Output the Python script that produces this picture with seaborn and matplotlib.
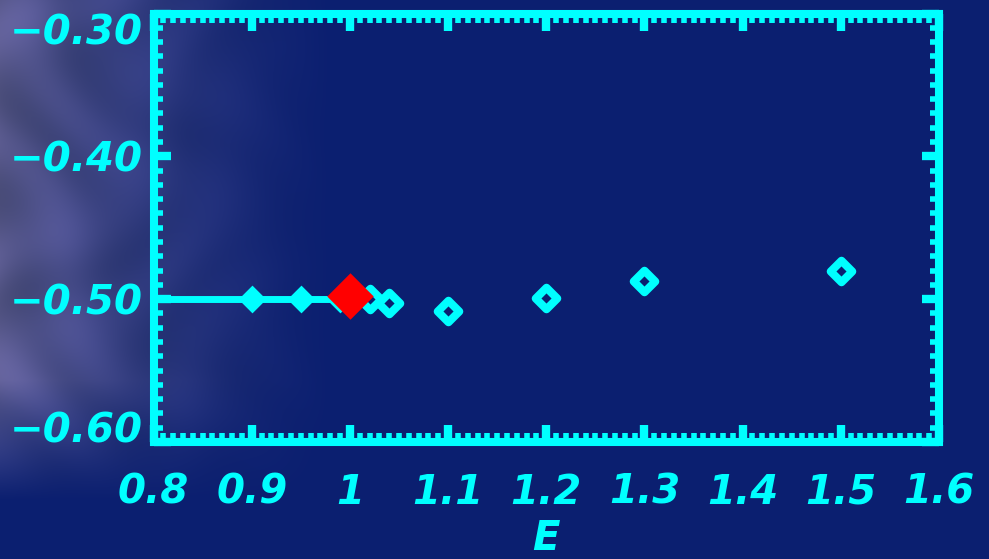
import numpy as np
import matplotlib
matplotlib.use("Agg")
import matplotlib.pyplot as plt
import seaborn as sns
from matplotlib.ticker import MultipleLocator, FixedLocator

# Reference curve and measured points
line_x = [0.80, 1.00]
line_y = [-0.500, -0.500]

filled_x = [0.90, 0.95, 0.99]
filled_y = [-0.500, -0.500, -0.500]

open_x = [1.02, 1.04, 1.10, 1.20, 1.30, 1.50]
open_y = [-0.500, -0.503, -0.508, -0.499, -0.487, -0.480]

red_x = [1.00]
red_y = [-0.498]

xticks = [0.8, 0.9, 1.0, 1.1, 1.2, 1.3, 1.4, 1.5, 1.6]
xtick_labels = ["0.8", "0.9", "1", "1.1", "1.2", "1.3", "1.4", "1.5", "1.6"]
yticks = [-0.60, -0.50, -0.40, -0.30]
ytick_labels = ["\u22120.60", "\u22120.50", "\u22120.40", "\u22120.30"]

CYAN = "#00FFFF"
BG = np.array([11, 31, 112]) / 255.0

sns.set_theme(style="ticks")
plt.rcParams["font.family"] = ["DejaVu Sans"]

W, H = 989, 559
fig = plt.figure(figsize=(W / 100, H / 100), dpi=100)
fig.patch.set_facecolor(BG)

# Soft mottled haze along the left side of the slide background
yy, xx = np.mgrid[0:H, 0:W].astype(float)
pat = np.sin(xx / 24.0 + 1.4 * np.sin(yy / 43.0)) * np.sin(yy / 29.0 + 1.1 * np.cos(xx / 39.0))
pat = 0.5 + 0.5 * pat
mask = np.clip(1 - xx / 340.0, 0, 1) ** 1.4 * np.clip((500 - yy) / 120.0, 0, 1)
mask *= 0.85
light = np.array([122, 116, 172]) / 255.0
dark = np.array([84, 84, 122]) / 255.0
haze = dark[None, None, :] + (light - dark)[None, None, :] * pat[..., None]
img = BG[None, None, :] * (1 - mask[..., None]) + haze * mask[..., None]
bg_ax = fig.add_axes([0, 0, 1, 1], zorder=-10)
bg_ax.imshow(img, aspect="auto", interpolation="bilinear")
bg_ax.set_axis_off()

ax = fig.add_axes([153.5 / W, 1 - 442 / H, (939 - 153.5) / W, (442 - 13.5) / H])
ax.set_facecolor("none")

sns.lineplot(x=line_x, y=line_y, ax=ax, color=CYAN, linewidth=5, zorder=2)
sns.scatterplot(x=filled_x, y=filled_y, ax=ax, marker="D", s=200, color=CYAN,
                linewidth=0, zorder=3)
sns.scatterplot(x=open_x, y=open_y, ax=ax, marker="D", s=120, facecolor=BG,
                edgecolor=CYAN, linewidth=5.8, zorder=3)
sns.scatterplot(x=red_x, y=red_y, ax=ax, marker="D", s=560, color="#FF0000",
                linewidth=0, zorder=4)

ax.set_xlim(0.8, 1.6)
ax.set_ylim(-0.60, -0.30)
ax.xaxis.set_major_locator(FixedLocator(xticks))
ax.yaxis.set_major_locator(FixedLocator(yticks))
ax.xaxis.set_minor_locator(MultipleLocator(0.01))
ax.yaxis.set_minor_locator(MultipleLocator(0.01))

font = dict(family="DejaVu Sans", weight="bold", style="italic", size=29, color=CYAN)
ax.set_xticklabels(xtick_labels, fontdict=font)
ylabels = ax.set_yticklabels(ytick_labels, fontdict=font)
# keep the end labels inside the axis range
ylabels[0].set_verticalalignment("baseline")
ylabels[-1].set_verticalalignment("top")

for s in ax.spines.values():
    s.set_color(CYAN)
    s.set_linewidth(5.8)
    s.set_visible(True)

ax.tick_params(which="both", direction="in", colors=CYAN, top=True, right=True)
ax.tick_params(which="major", length=12, width=6)
ax.tick_params(which="minor", length=6.5, width=4)
ax.tick_params(axis="x", which="major", pad=22)
ax.tick_params(axis="y", which="major", pad=8)

ax.set_xlabel("E", fontdict=font, labelpad=5)
ax.set_ylabel("")

fig.savefig("out.png", dpi=100, facecolor=fig.get_facecolor())
